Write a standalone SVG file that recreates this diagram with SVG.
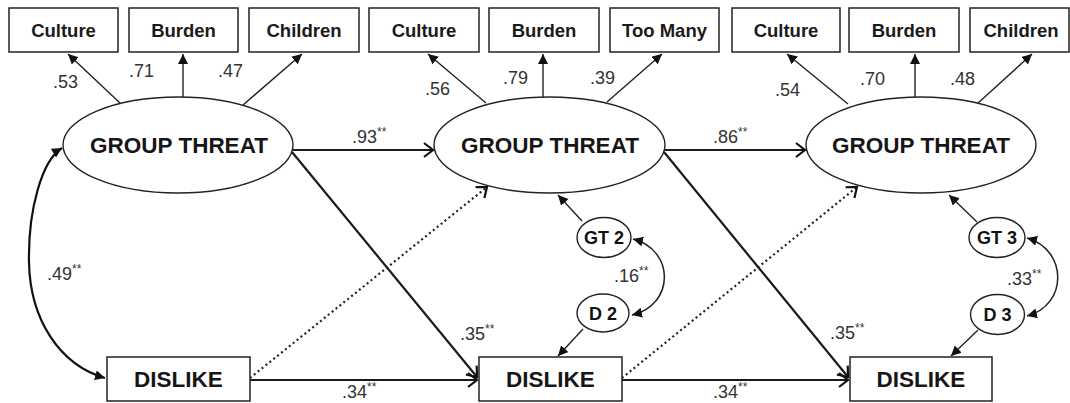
<svg xmlns="http://www.w3.org/2000/svg" width="1070" height="403" viewBox="0 0 1070 403">
<style>
.box{fill:#fff;stroke:#222;stroke-width:1.5}
.lat{fill:#fff;stroke:#222;stroke-width:1.4}
.ind{font-family:"Liberation Sans",Arial,sans-serif;font-size:18.5px;font-weight:bold;fill:#1a1a1a;text-anchor:middle}
.big{font-family:"Liberation Sans",Arial,sans-serif;font-size:22.5px;font-weight:bold;fill:#161616;text-anchor:middle}
.res{font-family:"Liberation Sans",Arial,sans-serif;font-size:18px;font-weight:bold;fill:#111;text-anchor:middle}
.lab{font-family:"Liberation Sans",Arial,sans-serif;font-size:18px;fill:#333}
.st{font-size:12px}
.thin{fill:none;stroke:#222;stroke-width:1.4;marker-end:url(#fh)}
.main{fill:none;stroke:#1a1a1a;stroke-width:2.2;marker-end:url(#oh)}
.dot{fill:none;stroke:#222;stroke-width:2.2;stroke-dasharray:2 3;marker-end:url(#oh)}
.cov{fill:none;stroke:#222;stroke-width:1.5;marker-start:url(#fh2);marker-end:url(#fh)}
.cov2{fill:none;stroke:#111;stroke-width:2.2;marker-start:url(#fh2);marker-end:url(#fh)}
</style>
<defs>
<marker id="fh" markerUnits="userSpaceOnUse" markerWidth="12" markerHeight="12" refX="10" refY="5" orient="auto"><path d="M0,0 L10,5 L0,10 z" fill="#111"/></marker>
<marker id="fh2" markerUnits="userSpaceOnUse" markerWidth="12" markerHeight="12" refX="10" refY="5" orient="auto-start-reverse"><path d="M0,0 L10,5 L0,10 z" fill="#111"/></marker>
<marker id="oh" markerUnits="userSpaceOnUse" markerWidth="14" markerHeight="18" refX="10" refY="8" orient="auto"><path d="M1,1 L10,8 L1,15" fill="none" stroke="#111" stroke-width="2.2"/></marker>
</defs>
<rect width="1070" height="403" fill="#fff"/>

<g id="connectors">
<path class="thin" d="M120,103 L68,54"/>
<path class="thin" d="M183,97 L183,54"/>
<path class="thin" d="M243,105 L302,54"/>
<path class="thin" d="M486,103 L428,54"/>
<path class="thin" d="M543,97 L543,54"/>
<path class="thin" d="M607,102 L662,54"/>
<path class="thin" d="M848,104 L787,54"/>
<path class="thin" d="M915,97 L915,54"/>
<path class="thin" d="M977,104 L1032,54"/>
<path class="main" d="M293,150 L433,150"/>
<path class="main" d="M665,150 L805,150"/>
<path class="main" d="M292,152 L477,377"/>
<path class="main" d="M664,152 L848,377"/>
<path class="main" d="M250,380 L477,380"/>
<path class="main" d="M622,380 L848,380"/>
<path class="dot" d="M250,378 L487,187"/>
<path class="dot" d="M622,378 L857,187"/>
<path class="thin" d="M582,221 L558,195"/>
<path class="thin" d="M583,329 L558,356"/>
<path class="thin" d="M977,222 L949,195"/>
<path class="thin" d="M978,330 L951,356"/>
<path class="cov" d="M633,239 C675,250 675,305 632,315"/>
<path class="cov" d="M1027,238 C1068,250 1068,305 1027,316"/>
<path class="cov2" d="M62,148 C42,160 28,210 29,262 C30,320 60,365 105,378"/>
</g>

<g id="labels">
<text class="lab" x="53" y="88">.53</text>
<text class="lab" x="129" y="77">.71</text>
<text class="lab" x="218" y="77">.47</text>
<text class="lab" x="425" y="95">.56</text>
<text class="lab" x="503" y="84">.79</text>
<text class="lab" x="590" y="84">.39</text>
<text class="lab" x="775" y="96">.54</text>
<text class="lab" x="860" y="85">.70</text>
<text class="lab" x="950" y="85">.48</text>
<text class="lab" x="352" y="143">.93<tspan class="st" dy="-7">**</tspan></text>
<text class="lab" x="713" y="143">.86<tspan class="st" dy="-7">**</tspan></text>
<text class="lab" x="460" y="340">.35<tspan class="st" dy="-7">**</tspan></text>
<text class="lab" x="830" y="339">.35<tspan class="st" dy="-7">**</tspan></text>
<text class="lab" x="342" y="398">.34<tspan class="st" dy="-7">**</tspan></text>
<text class="lab" x="713" y="398">.34<tspan class="st" dy="-7">**</tspan></text>
<text class="lab" x="47" y="280">.49<tspan class="st" dy="-7">**</tspan></text>
<text class="lab" x="614" y="282">.16<tspan class="st" dy="-7">**</tspan></text>
<text class="lab" x="1007" y="285">.33<tspan class="st" dy="-7">**</tspan></text>
</g>

<g id="culture1"><rect class="box" x="9" y="8" width="109" height="44"/><text class="ind" x="63.5" y="37">Culture</text></g>
<g id="burden1"><rect class="box" x="129" y="8" width="109" height="44"/><text class="ind" x="183.5" y="37">Burden</text></g>
<g id="children1"><rect class="box" x="249" y="8" width="110" height="44"/><text class="ind" x="304" y="37">Children</text></g>
<g id="culture2"><rect class="box" x="369" y="8" width="110" height="44"/><text class="ind" x="424" y="37">Culture</text></g>
<g id="burden2"><rect class="box" x="489" y="8" width="110" height="44"/><text class="ind" x="544" y="37">Burden</text></g>
<g id="toomany2"><rect class="box" x="610" y="8" width="109" height="44"/><text class="ind" x="664.5" y="37">Too Many</text></g>
<g id="culture3"><rect class="box" x="732" y="8" width="108" height="44"/><text class="ind" x="786" y="37">Culture</text></g>
<g id="burden3"><rect class="box" x="849" y="8" width="110" height="44"/><text class="ind" x="904" y="37">Burden</text></g>
<g id="children3"><rect class="box" x="970" y="8" width="99" height="44"/><text class="ind" x="1021" y="37">Children</text></g>

<g id="gt1"><ellipse class="lat" cx="178" cy="145" rx="115" ry="48"/><text class="big" x="179" y="153">GROUP THREAT</text></g>
<g id="gt2"><ellipse class="lat" cx="549.5" cy="145" rx="115.5" ry="48"/><text class="big" x="550" y="153">GROUP THREAT</text></g>
<g id="gt3"><ellipse class="lat" cx="921" cy="145" rx="115" ry="48"/><text class="big" x="921" y="153">GROUP THREAT</text></g>

<g id="dislike1"><rect class="box" x="107" y="357" width="143" height="44"/><text class="big" x="178.5" y="387">DISLIKE</text></g>
<g id="dislike2"><rect class="box" x="479" y="357" width="143" height="44"/><text class="big" x="550.5" y="387">DISLIKE</text></g>
<g id="dislike3"><rect class="box" x="850" y="357" width="142" height="44"/><text class="big" x="921" y="387">DISLIKE</text></g>

<g id="gtres2"><ellipse class="lat" cx="604" cy="237.5" rx="27" ry="20"/><text class="res" x="604" y="244">GT 2</text></g>
<g id="dres2"><ellipse class="lat" cx="603" cy="313" rx="26" ry="19"/><text class="res" x="603" y="319.5">D 2</text></g>
<g id="gtres3"><ellipse class="lat" cx="997" cy="237.5" rx="28" ry="20"/><text class="res" x="997" y="244">GT 3</text></g>
<g id="dres3"><ellipse class="lat" cx="997.5" cy="314.5" rx="27" ry="20"/><text class="res" x="997.5" y="321">D 3</text></g>
</svg>
